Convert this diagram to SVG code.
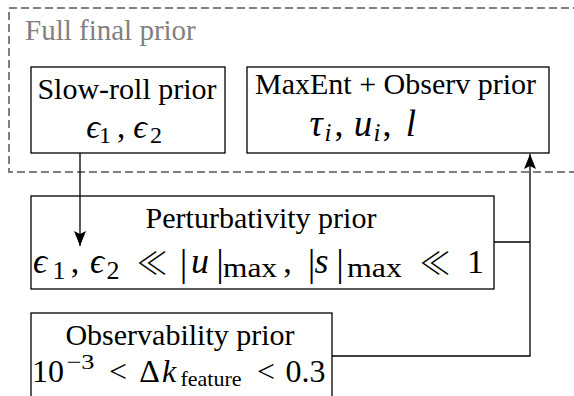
<svg xmlns="http://www.w3.org/2000/svg" width="574" height="396" viewBox="0 0 574 396">
<style>
.box{fill:#fff;stroke:#000;stroke-width:1.3}
.t{font-family:"Liberation Serif","DejaVu Serif",serif;font-size:30px;fill:#000;text-anchor:middle}
.m{font-family:"Liberation Serif","DejaVu Serif",serif;fill:#000;text-anchor:middle}
.i{font-style:italic}
.ll{font-family:"Noto Sans CJK JP","DejaVu Sans",sans-serif;font-weight:300;fill:#000;text-anchor:middle}
.c{fill:none;stroke:#000;stroke-width:1.3}
</style>
<defs>
<marker id="ah" markerWidth="16" markerHeight="12" refX="15" refY="6" orient="auto" markerUnits="userSpaceOnUse">
<path d="M0,0 L15,6 L0,12 L3,6 Z" fill="#000"/>
</marker>
</defs>
<rect width="574" height="396" fill="#fff"/>
<g id="full-final-prior">
<rect x="9" y="8" width="580" height="164" fill="none" stroke="#808080" stroke-width="2" stroke-dasharray="8,4"/>
<text x="25" y="40" font-family="Liberation Serif, serif" font-size="29" fill="#808080">Full final prior</text>
</g>
<g id="slow-roll">
<rect class="box" x="31" y="67" width="194" height="86"/>
<text class="t" x="127" y="99">Slow-roll prior</text>
<text class="m i" x="93" y="138" font-size="34">ϵ</text>
<text class="m" x="105" y="143" font-size="24">1</text>
<text class="m" x="121" y="138" font-size="33">,</text>
<text class="m i" x="140" y="138" font-size="34">ϵ</text>
<text class="m" x="156" y="143" font-size="24">2</text>
</g>
<g id="maxent">
<rect class="box" x="247" y="67" width="302" height="86"/>
<text class="t" x="395.5" y="94">MaxEnt + Observ prior</text>
<text class="m i" x="316" y="136" font-size="37">τ</text>
<text class="m i" x="328" y="141" font-size="25">i</text>
<text class="m" x="339" y="136" font-size="36">,</text>
<text class="m i" x="363" y="136" font-size="37">u</text>
<text class="m i" x="377" y="141" font-size="25">i</text>
<text class="m" x="387" y="136" font-size="36">,</text>
<text class="m i" x="411" y="136" font-size="37">l</text>
</g>
<g id="perturbativity">
<rect class="box" x="31" y="196" width="463" height="93"/>
<text class="t" x="261" y="228">Perturbativity prior</text>
<text class="m i" x="40" y="273" font-size="35">ϵ</text>
<text class="m" x="59" y="279" font-size="26">1</text>
<text class="m" x="75" y="273" font-size="34">,</text>
<text class="m i" x="97" y="273" font-size="35">ϵ</text>
<text class="m" x="113" y="279" font-size="26">2</text>
<text class="ll" x="152" y="274" font-size="31">≪</text>
<text class="m" x="183.5" y="276" font-size="38">|</text>
<text class="m i" x="200" y="273" font-size="36">u</text>
<text class="m" x="220" y="276" font-size="38">|</text>
<text class="m" x="250" y="277" font-size="28" textLength="54" lengthAdjust="spacingAndGlyphs">max</text>
<text class="m" x="287.5" y="273" font-size="34">,</text>
<text class="m" x="311.5" y="276" font-size="38">|</text>
<text class="m i" x="321.5" y="273" font-size="36">s</text>
<text class="m" x="340" y="276" font-size="38">|</text>
<text class="m" x="374.5" y="277" font-size="28" textLength="55" lengthAdjust="spacingAndGlyphs">max</text>
<text class="ll" x="435" y="274" font-size="31">≪</text>
<text class="m" x="475.5" y="273" font-size="34">1</text>
</g>
<g id="observability">
<rect class="box" x="31" y="313" width="301" height="90"/>
<text class="t" x="180" y="345">Observability prior</text>
<text class="m" x="48" y="382" font-size="32">10</text>
<text class="m" x="80.5" y="369" font-size="21" textLength="28" lengthAdjust="spacingAndGlyphs">−3</text>
<text class="m" x="118" y="382" font-size="32">&lt;</text>
<text class="m" x="149.5" y="382" font-size="32">Δ</text>
<text class="m i" x="169" y="382" font-size="32">k</text>
<text class="m" x="211" y="386" font-size="22">feature</text>
<text class="m" x="266" y="382" font-size="32">&lt;</text>
<text class="m" x="305.5" y="382" font-size="32">0.3</text>
</g>
<g id="connectors">
<line class="c" x1="80" y1="153" x2="80" y2="246" marker-end="url(#ah)"/>
<polyline class="c" points="494,242 530,242"/>
<polyline class="c" points="332,356 530,356 530,154" marker-end="url(#ah)"/>
</g>
</svg>
